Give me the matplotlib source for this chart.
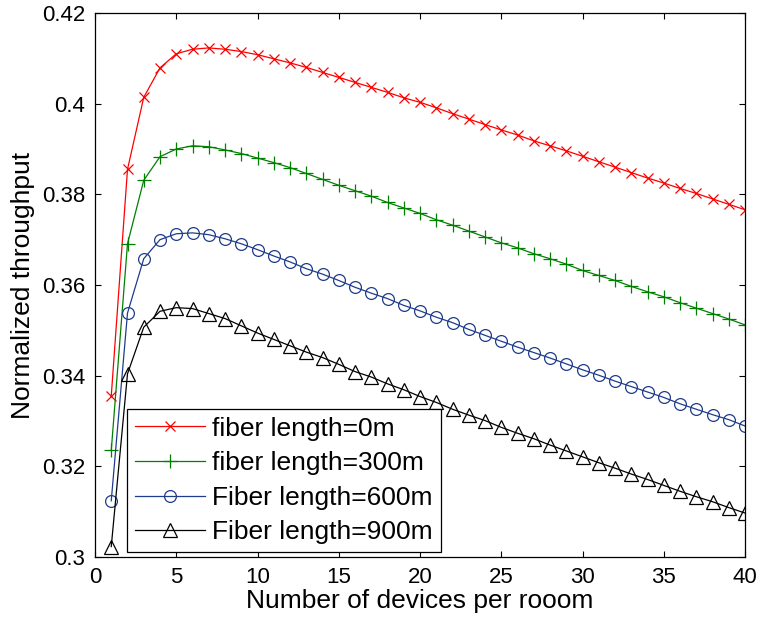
import numpy as np
import matplotlib
matplotlib.use("Agg")
import matplotlib.pyplot as plt

plt.rcParams['font.family'] = ['Liberation Sans', 'DejaVu Sans']

devices = list(range(1, 41))

thr_0m = [0.3355, 0.3855, 0.4014, 0.4079, 0.4110, 0.4120, 0.4123, 0.4120, 0.4115, 0.4108,
          0.4099, 0.4090, 0.4080, 0.4069, 0.4058, 0.4047, 0.4036, 0.4025, 0.4013, 0.4003,
          0.3991, 0.3978, 0.3966, 0.3954, 0.3942, 0.3931, 0.3918, 0.3907, 0.3896, 0.3884,
          0.3872, 0.3860, 0.3848, 0.3836, 0.3825, 0.3813, 0.3802, 0.3790, 0.3778, 0.3766]

thr_300m = [0.3235, 0.3691, 0.3831, 0.3883, 0.3900, 0.3907, 0.3905, 0.3898, 0.3890, 0.3880,
            0.3870, 0.3859, 0.3846, 0.3833, 0.3820, 0.3808, 0.3796, 0.3782, 0.3770, 0.3758,
            0.3744, 0.3732, 0.3719, 0.3706, 0.3693, 0.3682, 0.3669, 0.3658, 0.3646, 0.3632,
            0.3621, 0.3610, 0.3597, 0.3585, 0.3574, 0.3561, 0.3549, 0.3537, 0.3525, 0.3512]

thr_600m = [0.3124, 0.3538, 0.3658, 0.3700, 0.3713, 0.3715, 0.3711, 0.3702, 0.3691, 0.3678,
            0.3664, 0.3651, 0.3636, 0.3624, 0.3610, 0.3595, 0.3582, 0.3570, 0.3555, 0.3543,
            0.3529, 0.3517, 0.3502, 0.3489, 0.3476, 0.3463, 0.3451, 0.3439, 0.3426, 0.3413,
            0.3401, 0.3388, 0.3376, 0.3364, 0.3352, 0.3338, 0.3326, 0.3314, 0.3303, 0.3289]

thr_900m = [0.3023, 0.3404, 0.3507, 0.3542, 0.3550, 0.3548, 0.3537, 0.3526, 0.3510, 0.3494,
            0.3480, 0.3466, 0.3452, 0.3440, 0.3425, 0.3409, 0.3397, 0.3382, 0.3369, 0.3354,
            0.3341, 0.3326, 0.3313, 0.3301, 0.3286, 0.3273, 0.3261, 0.3247, 0.3234, 0.3221,
            0.3208, 0.3196, 0.3183, 0.3171, 0.3158, 0.3145, 0.3133, 0.3122, 0.3109, 0.3097]

labels = ["fiber length=0m", "fiber length=300m", "Fiber length=600m", "Fiber length=900m"]
x_ticks = [0, 5, 10, 15, 20, 25, 30, 35, 40]
y_ticks = [0.30, 0.32, 0.34, 0.36, 0.38, 0.40, 0.42]
y_tick_labels = ["0.3", "0.32", "0.34", "0.36", "0.38", "0.4", "0.42"]

fig = plt.figure(figsize=(7.57, 6.22), dpi=100)
ax = fig.add_axes([95 / 757, 1 - 557 / 622, 650 / 757, 544 / 622])

styles = [
    dict(color='#ff0000', marker='x', markersize=7.5),
    dict(color='#008000', marker='+', markersize=9.5),
    dict(color='#1f3c8c', marker='o', markersize=8.5, markerfacecolor='none'),
    dict(color='#000000', marker='^', markersize=10, markerfacecolor='none'),
]
for series, lab, st in zip([thr_0m, thr_300m, thr_600m, thr_900m], labels, styles):
    ax.plot(devices, series, label=lab, linewidth=0.9, markeredgewidth=0.9, **st)

ax.set_xlim(0, 40)
ax.set_ylim(0.30, 0.42)
ax.set_xticks(x_ticks)
ax.set_yticks(y_ticks)
ax.set_yticklabels(y_tick_labels)
ax.tick_params(direction='in', length=4.5, width=0.8, top=True, right=True,
               labelsize=16, pad=7)
for sp in ax.spines.values():
    sp.set_linewidth(0.9)

ax.set_xlabel("Number of devices per rooom", fontsize=19, labelpad=1)
ax.set_ylabel("Normalized throughput", fontsize=19, labelpad=5)

leg = ax.legend(loc='lower left', bbox_to_anchor=(31.7 / 650, 4.7 / 544),
                borderaxespad=0, fontsize=19, fancybox=False, framealpha=1,
                edgecolor='black', handlelength=2.65, handletextpad=0.29,
                labelspacing=0.4, borderpad=0.3)
leg.get_frame().set_linewidth(0.9)

fig.savefig("out.png", dpi=100)
